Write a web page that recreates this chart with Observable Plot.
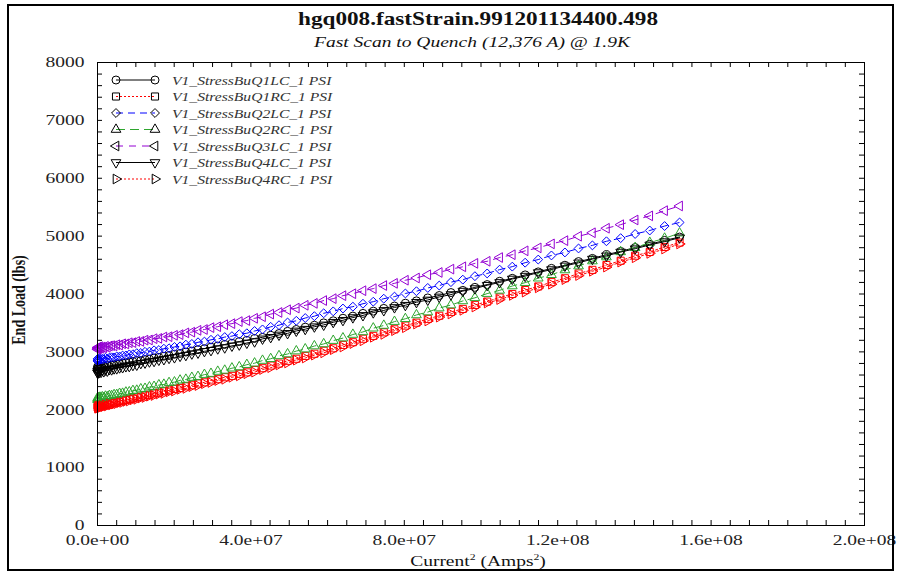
<!DOCTYPE html>
<html><head><meta charset="utf-8">
<script src="https://cdn.jsdelivr.net/npm/d3@7"></script>
<script src="https://cdn.jsdelivr.net/npm/@observablehq/plot@0.6"></script>
<style>
html,body{margin:0;padding:0;background:#fff;}
#wrap{position:relative;width:899px;height:573px;overflow:hidden;font-family:"Liberation Serif","Times New Roman",serif;color:#111;}
#wrap svg{position:absolute;left:0;top:0;}
#border{position:absolute;left:7px;top:4px;width:887px;height:567px;border:2px solid #000;box-sizing:border-box;pointer-events:none;}
.t{position:absolute;white-space:nowrap;line-height:1;transform-origin:0 0;}
#title{left:478px;top:9px;font-size:19px;font-weight:bold;transform:scaleX(1.22) translateX(-50%);}
#subtitle{left:472px;top:35px;font-size:15px;font-style:italic;transform:scaleX(1.3) translateX(-50%);}
#xlabel{left:478px;top:554px;font-size:15px;transform:scaleX(1.3) translateX(-50%);}
#xlabel sup{font-size:9px;vertical-align:6px;line-height:0;}
#ylabel{left:20px;top:300px;font-size:14px;font-weight:bold;transform-origin:50% 50%;transform:translate(-50%,-50%) rotate(-90deg) scaleY(1.3);}
</style>
</head><body>
<div id="wrap">
  <div id="border"></div>
  <div id="title" class="t">hgq008.fastStrain.991201134400.498</div>
  <div id="subtitle" class="t">Fast Scan to Quench (12,376 A) @ 1.9K</div>
  <div id="xlabel" class="t">Current<sup>2</sup> (Amps<sup>2</sup>)</div>
  <div id="ylabel" class="t">End Load (lbs)</div>
</div>
<script>
// Current^2 sample positions (units of 1e6 A^2)
const currentSqM = [
  0, 0.03, 0.10, 0.23, 0.41, 0.64, 0.92, 1.25, 1.64, 2.07, 2.56, 3.10,
  3.69, 4.33, 5.02, 5.76, 6.55, 7.40, 8.29, 9.24, 10.24, 11.29, 12.39, 13.54,
  14.75, 16.00, 17.31, 18.66, 20.07, 21.53, 23.04, 24.60, 26.21, 27.88, 29.59, 31.36,
  33.18, 35.05, 36.97, 38.94, 40.96, 43.03, 45.16, 47.33, 49.56, 51.84, 54.17, 56.55,
  58.98, 61.47, 64.00, 66.59, 69.22, 71.91, 74.65, 77.44, 80.28, 83.17, 86.12, 89.11,
  92.16, 95.26, 98.41, 101.61, 104.86, 108.16, 111.51, 114.92, 118.37, 121.88, 125.44, 129.05,
  132.71, 136.42, 140.19, 144.00, 147.87, 151.78
];
const q1lc = [
  2738, 2702, 2745, 2710, 2742, 2716, 2748, 2722, 2755, 2733, 2764, 2745,
  2772, 2774, 2788, 2791, 2806, 2811, 2826, 2833, 2850, 2848, 2866, 2875,
  2894, 2905, 2925, 2937, 2958, 2973, 2997, 3013, 3038, 3055, 3082, 3101,
  3128, 3149, 3178, 3199, 3232, 3250, 3287, 3317, 3355, 3387, 3427, 3460,
  3501, 3537, 3581, 3618, 3665, 3704, 3751, 3792, 3841, 3882, 3932, 3974,
  4025, 4062, 4115, 4163, 4220, 4271, 4330, 4382, 4443, 4497, 4560, 4615,
  4680, 4737, 4803, 4860, 4926, 4984
];
const q1rc = [
  2072, 2040, 2078, 2048, 2080, 2054, 2085, 2060, 2093, 2072, 2105, 2086,
  2122, 2125, 2141, 2146, 2163, 2169, 2188, 2196, 2216, 2226, 2248, 2258,
  2282, 2294, 2319, 2333, 2359, 2376, 2405, 2423, 2454, 2474, 2507, 2528,
  2562, 2585, 2621, 2646, 2686, 2718, 2763, 2798, 2845, 2881, 2930, 2968,
  3019, 3062, 3120, 3167, 3227, 3276, 3338, 3390, 3454, 3505, 3570, 3624,
  3691, 3742, 3811, 3869, 3940, 4000, 4068, 4130, 4205, 4272, 4355, 4417,
  4501, 4575, 4662, 4726, 4813, 4889
];
const q2lc = [
  2842, 2878, 2855, 2884, 2861, 2890, 2866, 2881, 2872, 2897, 2880, 2900,
  2906, 2904, 2921, 2919, 2937, 2938, 2956, 2959, 2978, 2981, 3001, 3005,
  3027, 3032, 3055, 3062, 3085, 3096, 3125, 3137, 3166, 3178, 3209, 3224,
  3256, 3272, 3305, 3322, 3361, 3388, 3433, 3461, 3508, 3537, 3585, 3617,
  3667, 3700, 3749, 3781, 3832, 3867, 3919, 3955, 4009, 4048, 4105, 4146,
  4205, 4248, 4308, 4355, 4421, 4473, 4541, 4595, 4666, 4718, 4787, 4840,
  4911, 4965, 5037, 5097, 5174, 5236
];
const q2rc = [
  2176, 2205, 2182, 2208, 2187, 2213, 2195, 2220, 2206, 2231, 2221, 2243,
  2240, 2258, 2259, 2279, 2281, 2302, 2306, 2329, 2334, 2358, 2366, 2391,
  2400, 2427, 2437, 2466, 2477, 2509, 2523, 2556, 2572, 2607, 2625, 2661,
  2680, 2718, 2739, 2779, 2804, 2851, 2881, 2931, 2963, 3014, 3048, 3101,
  3137, 3195, 3238, 3300, 3345, 3409, 3456, 3523, 3572, 3638, 3688, 3757,
  3809, 3880, 3934, 4007, 4063, 4138, 4196, 4273, 4333, 4415, 4483, 4570,
  4639, 4728, 4800, 4889, 4961, 5052
];
const q3lc = [
  3045, 3072, 3050, 3081, 3058, 3090, 3062, 3085, 3068, 3096, 3079, 3102,
  3108, 3104, 3124, 3119, 3140, 3137, 3158, 3160, 3180, 3181, 3203, 3206,
  3228, 3233, 3257, 3262, 3286, 3298, 3328, 3341, 3372, 3386, 3419, 3435,
  3470, 3488, 3523, 3541, 3580, 3607, 3653, 3681, 3728, 3757, 3805, 3838,
  3887, 3920, 3971, 4005, 4057, 4093, 4146, 4184, 4238, 4277, 4333, 4372,
  4430, 4470, 4529, 4565, 4630, 4679, 4746, 4797, 4866, 4922, 4998, 5058,
  5136, 5198, 5279, 5350, 5440, 5521
];
const q4lc = [
  2640, 2668, 2634, 2672, 2645, 2676, 2650, 2683, 2661, 2690, 2672, 2699,
  2694, 2711, 2712, 2728, 2731, 2748, 2751, 2770, 2775, 2803, 2811, 2830,
  2839, 2860, 2870, 2892, 2903, 2928, 2942, 2968, 2983, 3010, 3027, 3056,
  3073, 3104, 3123, 3154, 3177, 3225, 3252, 3292, 3320, 3362, 3392, 3435,
  3466, 3512, 3546, 3593, 3630, 3679, 3716, 3767, 3806, 3857, 3897, 3949,
  3990, 4050, 4094, 4151, 4199, 4259, 4309, 4370, 4422, 4485, 4539, 4603,
  4659, 4725, 4782, 4848, 4905, 4972
];
const q4rc = [
  2030, 2058, 2026, 2061, 2035, 2066, 2042, 2074, 2054, 2084, 2066, 2097,
  2086, 2101, 2105, 2122, 2127, 2145, 2152, 2172, 2180, 2202, 2212, 2234,
  2246, 2270, 2283, 2309, 2323, 2352, 2369, 2399, 2418, 2450, 2471, 2504,
  2526, 2561, 2585, 2622, 2650, 2694, 2727, 2774, 2809, 2857, 2894, 2944,
  2983, 3038, 3084, 3143, 3191, 3252, 3302, 3366, 3418, 3481, 3534, 3600,
  3655, 3718, 3775, 3845, 3904, 3976, 4032, 4106, 4169, 4248, 4319, 4393,
  4465, 4551, 4626, 4702, 4777, 4865
];
const seriesNames = [
  "V1_StressBuQ1LC_1 PSI", "V1_StressBuQ1RC_1 PSI", "V1_StressBuQ2LC_1 PSI",
  "V1_StressBuQ2RC_1 PSI", "V1_StressBuQ3LC_1 PSI", "V1_StressBuQ4LC_1 PSI",
  "V1_StressBuQ4RC_1 PSI"
];
const seriesValues = [q1lc, q1rc, q2lc, q2rc, q3lc, q4lc, q4rc];
const xTickValues = [0, 4e7, 8e7, 1.2e8, 1.6e8, 2e8];
const yTickValues = [0, 1000, 2000, 3000, 4000, 5000, 6000, 7000, 8000];

// styles
const colors = ["#000000", "#ff0000", "#0000ff", "#2ea52e", "#9400d3", "#000000", "#ff0000"];
const dashes = [null, "2,2", "7,5", "9,5", "7,6", null, "2,2"];
const sqrt3 = Math.sqrt(3);
const triDown = {draw(c, s){ const y = -Math.sqrt(s/(sqrt3*3)); c.moveTo(0,-2*y); c.lineTo(-sqrt3*y, y); c.lineTo(sqrt3*y, y); c.closePath(); }};
const triLeft = {draw(c, s){ const y = -Math.sqrt(s/(sqrt3*3)); c.moveTo(2*y,0); c.lineTo(-y,-sqrt3*y); c.lineTo(-y,sqrt3*y); c.closePath(); }};
const triRight = {draw(c, s){ const y = -Math.sqrt(s/(sqrt3*3)); c.moveTo(-2*y,0); c.lineTo(y,-sqrt3*y); c.lineTo(y,sqrt3*y); c.closePath(); }};
const symbols = [d3.symbolCircle, d3.symbolSquare, d3.symbolDiamond2, d3.symbolTriangle, triLeft, triDown, triRight];
const radii = [4, 4, 4, 3.6, 3.6, 3.6, 3.6];

const tables = seriesValues.map((vals, i) => vals.map((v, k) => ({x: currentSqM[k] * 1e6, y: v, s: seriesNames[i]})));

const xMinor = d3.range(0, 2e8 + 1, 5e6);
const yMinor = d3.range(0, 8001, 200);
const W = 899, H = 573, mL = 97, mR = 35, mT = 62, mB = 48;
const pw = W - mL - mR, ph = H - mT - mB;

const marks = [
  Plot.tickX(xMinor, {x: d => d, insetTop: ph - 5, stroke: "#000"}),
  Plot.tickX(xMinor, {x: d => d, insetBottom: ph - 5, stroke: "#000"}),
  Plot.tickY(yMinor, {y: d => d, insetRight: pw - 5, stroke: "#000"}),
  Plot.tickY(yMinor, {y: d => d, insetLeft: pw - 5, stroke: "#000"}),
  Plot.axisX({ticks: xTickValues, tickSize: 0, tickPadding: 9, label: null,
    tickFormat: d => d.toExponential(1).replace(/e([+-])(\d)$/, "e$10$2")}),
  Plot.axisY({ticks: yTickValues, tickSize: 0, tickPadding: 13, label: null, tickFormat: d => String(d)}),
];
tables.forEach((t, i) => {
  marks.push(Plot.line(t, {x: "x", y: "y", stroke: colors[i], strokeWidth: 1, strokeDasharray: dashes[i]}));
  marks.push(Plot.dot(t, {x: "x", y: "y", stroke: colors[i], fill: "none", strokeWidth: 1, symbol: symbols[i], r: radii[i]}));
});
marks.push(Plot.frame({stroke: "#000", strokeWidth: 1}));

const svg = Plot.plot({
  width: W, height: H, marginLeft: mL, marginRight: mR, marginTop: mT, marginBottom: mB,
  x: {type: "linear", domain: [0, 2e8]},
  y: {type: "linear", domain: [0, 8000]},
  style: {fontFamily: "'Liberation Serif','Times New Roman',serif", fontSize: "15px", color: "#222", background: "transparent", overflow: "visible"},
  marks
});
const wrap = document.getElementById("wrap");
wrap.insertBefore(svg, wrap.firstChild);

function stretch(sel, f) {
  sel.each(function() {
    const w = this.getComputedTextLength();
    if (w > 0) { this.setAttribute("textLength", w * f); this.setAttribute("lengthAdjust", "spacingAndGlyphs"); }
  });
}
stretch(d3.select(svg).selectAll("text"), 1.3);

// legend
const lg = d3.select(svg).append("g").attr("class", "legend").attr("text-anchor", "start");
seriesNames.forEach((name, i) => {
  const yy = 80 + i * 16.5;
  lg.append("line").attr("x1", 116).attr("x2", 155).attr("y1", yy).attr("y2", yy)
    .attr("stroke", colors[i]).attr("stroke-width", 1).attr("stroke-dasharray", dashes[i]);
  [116, 155].forEach(xx => {
    lg.append("path").attr("d", d3.symbol(symbols[i], Math.PI * radii[i] * radii[i])())
      .attr("transform", `translate(${xx},${yy})`).attr("fill", "none").attr("stroke", "#000").attr("stroke-width", 1);
  });
  lg.append("text").attr("x", 172).attr("y", yy).attr("dy", "0.35em").attr("text-anchor", "start")
    .attr("font-style", "italic").attr("font-size", 13).attr("fill", "#333").text(name);
});
stretch(lg.selectAll("text"), 1.2);
</script>
</body></html>
